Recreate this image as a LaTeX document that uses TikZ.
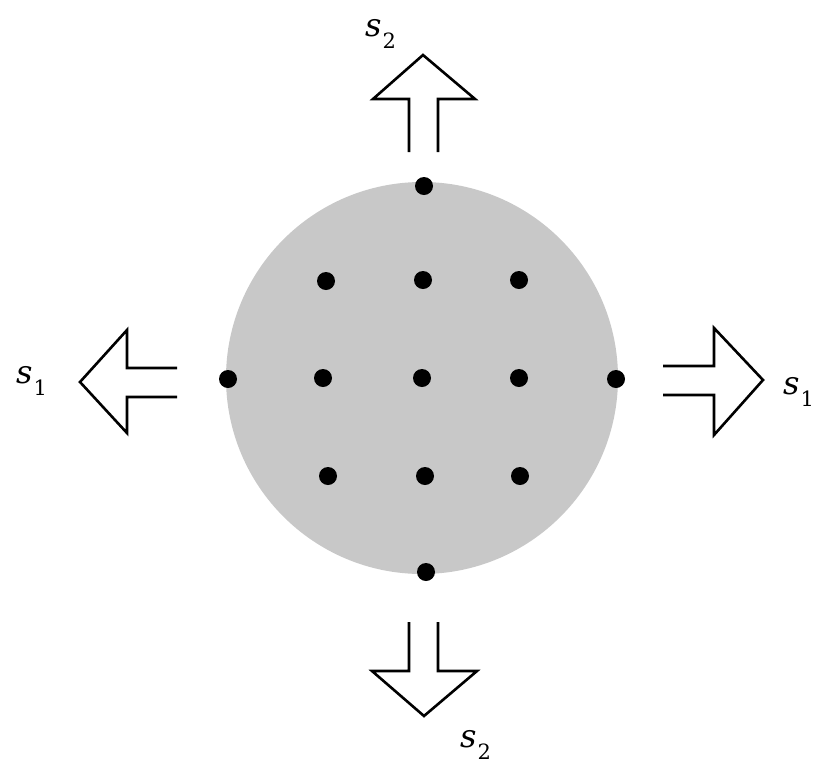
\documentclass[tikz,border=0pt]{standalone}
\usepackage{fontspec}
\usepackage{graphicx}
\newfontfamily\labfont{DejaVu Serif}
\newcommand{\slab}[1]{{\fontsize{32}{34}\selectfont\labfont\itshape s}\kern1pt\raisebox{-12pt}{\fontsize{21}{23}\selectfont\labfont #1}}
\begin{document}
\begin{tikzpicture}[x=1pt,y=-1pt,
  dot/.style={circle,fill=black,inner sep=0pt,minimum size=18pt},
  bigarrow/.style={line width=2.6pt,draw=black,line join=miter},
  lab/.style={inner sep=0pt,anchor=base west}]
\useasboundingbox (0,0) rectangle (815,764);
\fill[fill={rgb,255:red,200;green,200;blue,200}] (422,378) circle (196);
% dots
\foreach \i/\x/\y in {t/424/186,b/426/572,l/228/379,r/616/379,
  a1/326/281,a2/423/280,a3/519/280,
  m1/323/378,m2/422/378,m3/519/378,
  c1/328/476,c2/425/476,c3/520/476}
  \node[dot] (d\i) at (\x,\y) {};
% top arrow
\draw[bigarrow] (409,152) -- (409,99) -- (373,99) -- (423,55) -- (475,99) -- (438,99) -- (438,152);
% bottom arrow
\draw[bigarrow] (409,622) -- (409,671) -- (372,671) -- (424,716) -- (477,671) -- (438,671) -- (438,622);
% left arrow
\draw[bigarrow] (177,368) -- (127,368) -- (127,330) -- (80,382) -- (127,433) -- (127,397) -- (177,397);
% right arrow
\draw[bigarrow] (663,366) -- (714,366) -- (714,328) -- (763,380) -- (714,435) -- (714,395) -- (663,395);
% labels
\node[lab] (ltop) at (365,36) {\slab{2}};
\node[lab] (lbot) at (460,747) {\slab{2}};
\node[lab] (lleft) at (16,383) {\slab{1}};
\node[lab] (lright) at (783,394) {\slab{1}};
\end{tikzpicture}
\end{document}
